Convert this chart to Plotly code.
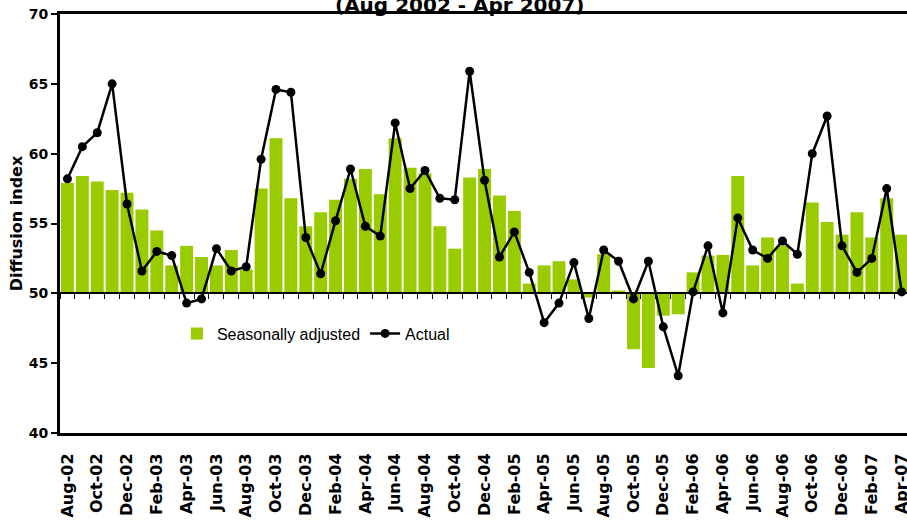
import plotly.graph_objects as go

months = [
    "Aug-02", "Sep-02", "Oct-02", "Nov-02", "Dec-02",
    "Jan-03", "Feb-03", "Mar-03", "Apr-03", "May-03", "Jun-03", "Jul-03", "Aug-03", "Sep-03", "Oct-03", "Nov-03", "Dec-03",
    "Jan-04", "Feb-04", "Mar-04", "Apr-04", "May-04", "Jun-04", "Jul-04", "Aug-04", "Sep-04", "Oct-04", "Nov-04", "Dec-04",
    "Jan-05", "Feb-05", "Mar-05", "Apr-05", "May-05", "Jun-05", "Jul-05", "Aug-05", "Sep-05", "Oct-05", "Nov-05", "Dec-05",
    "Jan-06", "Feb-06", "Mar-06", "Apr-06", "May-06", "Jun-06", "Jul-06", "Aug-06", "Sep-06", "Oct-06", "Nov-06", "Dec-06",
    "Jan-07", "Feb-07", "Mar-07", "Apr-07",
]

seasonally_adjusted = [
    57.9, 58.4, 58.0, 57.4, 57.2,
    56.0, 54.5, 52.0, 53.4, 52.6, 52.0, 53.1, 51.7, 57.5, 61.1, 56.8, 54.8,
    55.8, 56.7, 58.2, 58.9, 57.1, 61.1, 59.0, 58.6, 54.8, 53.2, 58.3, 58.9,
    57.0, 55.9, 50.7, 52.0, 52.3, 51.0, 49.7, 52.8, 50.2, 46.0, 44.65, 48.4,
    48.5, 51.5, 52.7, 52.75, 58.4, 52.0, 54.0, 53.4, 50.7, 56.5, 55.1, 54.2,
    55.8, 54.0, 56.8, 54.2,
]

actual = [
    58.2, 60.5, 61.5, 65.0, 56.4,
    51.6, 53.0, 52.7, 49.3, 49.6, 53.2, 51.6, 51.9, 59.6, 64.6, 64.4, 54.0,
    51.4, 55.2, 58.9, 54.8, 54.1, 62.2, 57.5, 58.8, 56.8, 56.7, 65.9, 58.1,
    52.6, 54.4, 51.5, 47.9, 49.3, 52.2, 48.2, 53.1, 52.3, 49.6, 52.3, 47.6,
    44.1, 50.1, 53.4, 48.6, 55.4, 53.1, 52.5, 53.75, 52.8, 60.0, 62.7, 53.4,
    51.5, 52.5, 57.5, 50.1,
]

y_ticks = [40, 45, 50, 55, 60, 65, 70]
base_value = 50
subtitle = "(Aug 2002 - Apr 2007)"

bold = dict(family="DejaVu Sans", color="black", weight="bold")
x_range = [-0.5, 56.36]

fig = go.Figure()
fig.add_trace(go.Bar(
    x=months,
    y=[v - base_value for v in seasonally_adjusted],
    base=base_value,
    name="Seasonally adjusted",
    marker=dict(color="#99CC00", line=dict(width=0)),
))
fig.add_trace(go.Scatter(
    x=months,
    y=actual,
    mode="lines+markers",
    name="Actual",
    line=dict(color="black", width=2.5),
    marker=dict(color="black", size=9),
))

fig.update_layout(
    width=907,
    height=520,
    margin=dict(l=60, r=0, t=14, b=87, autoexpand=False),
    paper_bgcolor="white",
    plot_bgcolor="white",
    bargap=0.13,
    showlegend=True,
    legend=dict(
        orientation="h",
        x=0.138, y=0.278, xanchor="left", yanchor="top",
        bgcolor="white",
        font=dict(family="Arial, Liberation Sans", size=16, color="black"),
        itemwidth=30,
    ),
    xaxis=dict(
        type="category",
        range=x_range,
        automargin=False,
        showline=True, mirror=True, linecolor="black", linewidth=3,
        ticks="", showgrid=False, zeroline=False,
        tickmode="array", tickvals=months[::2], ticktext=months[::2],
        tickangle=-90,
        tickfont=dict(size=16, **bold),
        ticklabelstandoff=11,
    ),
    xaxis2=dict(
        overlaying="x",
        anchor="free",
        position=(base_value - y_ticks[0]) / (y_ticks[-1] - y_ticks[0]),
        range=x_range,
        automargin=False,
        showline=True, linecolor="black", linewidth=1.5,
        ticks="outside", ticklen=5, tickwidth=1, tickcolor="black",
        tickmode="linear", tick0=-0.5, dtick=1,
        showticklabels=False, showgrid=False, zeroline=False,
    ),
    yaxis=dict(
        range=[y_ticks[0], y_ticks[-1]],
        automargin=False,
        tickmode="array", tickvals=y_ticks,
        showline=True, linecolor="black", linewidth=3,
        ticks="outside", ticklen=6, tickwidth=1.5, tickcolor="black",
        showgrid=False, zeroline=False,
        tickfont=dict(size=14, **bold),
        title=dict(text="Diffusion index", font=dict(size=16, **bold), standoff=3),
    ),
    annotations=[dict(
        text=subtitle,
        xref="paper", yref="paper", x=0.472, y=1,
        xanchor="center", yanchor="bottom", yshift=-5,
        showarrow=False,
        font=dict(size=20, **bold),
    )],
)

fig.add_trace(go.Scatter(x=[], y=[], xaxis="x2", showlegend=False, hoverinfo="skip"))

fig.write_html(
    "out.html",
    config={"displayModeBar": False},
    post_script="document.body.style.margin='0';document.body.style.overflow='hidden';",
)
